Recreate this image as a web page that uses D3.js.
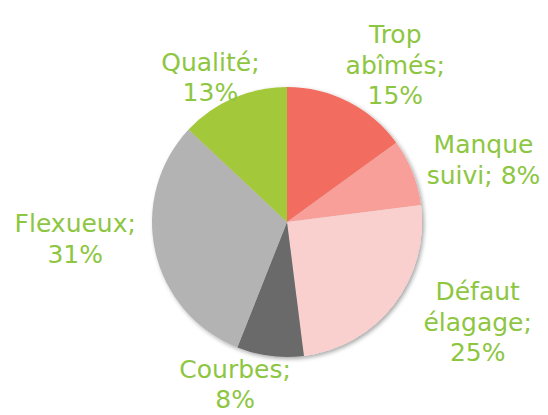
<!DOCTYPE html>
<html>
<head>
<meta charset="utf-8">
<script src="https://cdn.jsdelivr.net/npm/d3@7"></script>
<style>
  body { margin: 0; background: #fff; }
  svg { display: block; }
</style>
</head>
<body>
<div id="chart"></div>
<script>
const categories = ["Trop abîmés", "Manque suivi", "Défaut élagage", "Courbes", "Flexueux", "Qualité"];
const values = [15, 8, 25, 8, 31, 13];
const labelLines = [
  ["Trop", "abîmés;", "15%"],
  ["Manque", "suivi; 8%"],
  ["Défaut", "élagage;", "25%"],
  ["Courbes;", "8%"],
  ["Flexueux;", "31%"],
  ["Qualité;", "13%"]
];
const colors = ["#f26c60", "#f79f98", "#fad0cf", "#6b6b6b", "#b3b3b3", "#a3c93b"];

const width = 548;
const height = 415;
const cx = 287, cy = 222, radius = 135;
const fontSize = 25;
const lineHeight = 30.5;

// nudge of each label block from the slice's outer mid-point
const labelNudge = [[47, -37], [71, -13], [84, 17], [-35, 28], [-80, -13], [-23, -21]];

const data = categories.map((c, i) => ({ category: c, value: values[i], lines: labelLines[i] }));

const svg = d3.select("#chart")
  .append("svg")
  .attr("width", width)
  .attr("height", height);

const defs = svg.append("defs");
defs.append("filter")
  .attr("id", "shadow")
  .attr("x", "-20%").attr("y", "-20%")
  .attr("width", "140%").attr("height", "140%")
  .append("feDropShadow")
  .attr("dx", 2).attr("dy", 2)
  .attr("stdDeviation", 2)
  .attr("flood-color", "#000")
  .attr("flood-opacity", 0.35);

const pie = d3.pie()
  .value(d => d.value)
  .sort(null);

const arc = d3.arc()
  .innerRadius(0)
  .outerRadius(radius);

const arcs = pie(data);

const g = svg.append("g")
  .attr("transform", `translate(${cx}, ${cy})`);

g.append("g")
  .attr("filter", "url(#shadow)")
  .selectAll("path")
  .data(arcs)
  .enter()
  .append("path")
  .attr("d", arc)
  .attr("fill", (d, i) => colors[i]);

const labels = g.selectAll(".label")
  .data(arcs)
  .enter()
  .append("text")
  .attr("class", "label")
  .attr("text-anchor", "middle")
  .style("font-family", "'DejaVu Sans', Verdana, sans-serif")
  .style("font-size", fontSize + "px")
  .style("fill", "#8dc641");

labels.each(function(d, i) {
  const mid = (d.startAngle + d.endAngle) / 2;
  const x = Math.sin(mid) * radius + labelNudge[i][0];
  const y = -Math.cos(mid) * radius + labelNudge[i][1];
  const n = d.data.lines.length;
  const firstBase = y - (n - 1) * lineHeight / 2 + fontSize * 0.36;
  d3.select(this).selectAll("tspan")
    .data(d.data.lines)
    .enter()
    .append("tspan")
    .attr("x", x)
    .attr("y", (t, j) => firstBase + j * lineHeight)
    .text(t => t);
});
</script>
</body>
</html>
